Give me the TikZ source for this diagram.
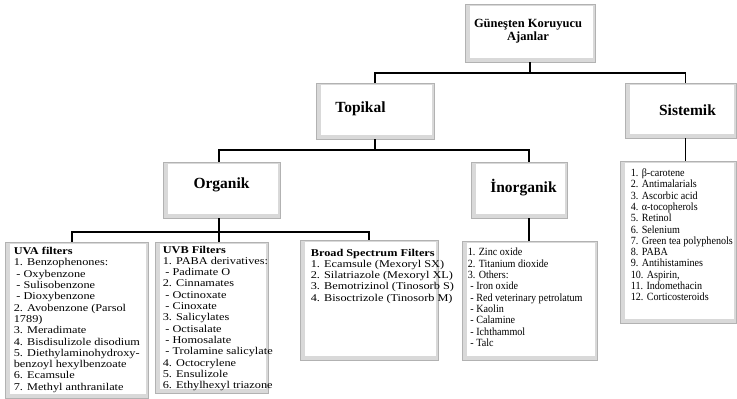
\documentclass[tikz,border=0pt]{standalone}
\usepackage{fontspec}
\setmainfont{Liberation Serif}
\newfontfamily\listfont[FakeStretch=1.18]{Liberation Serif}
\newfontfamily\listfonttwo[FakeStretch=0.92]{Liberation Serif}
\newcommand{\ind}{\hspace*{2.6pt}}
\begin{document}
\begin{tikzpicture}[x=1pt,y=-1pt,
  bevel/.style={draw=gray!60, line width=0.7pt, fill=gray!30, inner sep=0pt,
    path picture={\fill[white] ([shift={(4.5pt,-2pt)}]path picture bounding box.north west) rectangle ([shift={(-2pt,4.5pt)}]path picture bounding box.south east);}},
  conn/.style={draw=black, line width=1.8pt},
  head/.style={font=\bfseries\fontsize{15.5}{18}\selectfont, anchor=base, inner sep=0pt},
  lst/.style={font=\listfont\fontsize{10.4}{11.3}\selectfont, anchor=north west, align=left, inner sep=0pt},
  lsttwo/.style={font=\listfonttwo\fontsize{11}{11.3}\selectfont, anchor=north west, align=left, inner sep=0pt}]
\useasboundingbox (0,0) rectangle (737,399);

% boxes
\node[bevel, minimum width=130pt, minimum height=58pt] (top) at (530,33) {};
\node[bevel, minimum width=118pt, minimum height=56pt] (topikal) at (375,111) {};
\node[bevel, minimum width=111pt, minimum height=55pt] (sistemik) at (680.5,110.5) {};
\node[bevel, minimum width=117pt, minimum height=56pt] (organik) at (221.5,190) {};
\node[bevel, minimum width=96pt, minimum height=56pt] (inorganik) at (519,190) {};
\node[bevel, minimum width=143pt, minimum height=156.5pt] (uva) at (76.5,320.25) {};
\node[bevel, minimum width=113pt, minimum height=151pt] (uvb) at (211.5,317.5) {};
\node[bevel, minimum width=138pt, minimum height=120pt] (broad) at (369,300) {};
\node[bevel, minimum width=135pt, minimum height=119pt] (inlist) at (529.5,300.5) {};
\node[bevel, minimum width=116pt, minimum height=162pt] (silist) at (678,242) {};

% connectors
\coordinate (j1) at (530,73);
\coordinate (j2) at (375,150);
\coordinate (j3) at (219,232);
\draw[conn] (top.south) -- (j1);
\draw[conn] (topikal.north) |- (j1) -| ([xshift=5pt]sistemik.north);
\draw[conn] (topikal.south) -- (j2);
\draw[conn] ([xshift=-2.5pt]organik.north) |- (j2) -| ([xshift=10pt]inorganik.north);
\draw[conn] ([xshift=5pt]sistemik.south) -- ([xshift=5pt]sistemik.south |- silist.north);
\draw[conn] ([xshift=-2.5pt]organik.south) -- ([xshift=-2.5pt]organik.south |- uvb.north);
\draw[conn] ([xshift=-4.5pt]uva.north) |- (j3) -| (broad.north);
\draw[conn] ([xshift=10pt]inorganik.south) -- ([xshift=10pt]inorganik.south |- inlist.north);

% header texts
\node[font=\bfseries\fontsize{12.5}{12.5}\selectfont, align=center, inner sep=0pt] (topT) at (528,31) {Güneşten Koruyucu\\Ajanlar};
\node[head] (topikalT) at (360.5,112) {Topikal};
\node[head] (sistemikT) at (687.5,115) {Sistemik};
\node[head] (organikT) at (221.5,188) {Organik};
\node[head] (inorganikT) at (523.5,192) {İnorganik};

% list texts
\node[lst] (uvaT) at ([shift={(9pt,-5.5pt)}]uva.north west) {\textbf{UVA filters}\\1. Benzophenones:\\\ind- Oxybenzone\\\ind- Sulisobenzone\\\ind- Dioxybenzone\\2. Avobenzone (Parsol\\1789)\\3. Meradimate\\4. Bisdisulizole disodium\\5. Diethylaminohydroxy-\\benzoyl hexylbenzoate\\6. Ecamsule\\7. Methyl anthranilate};
\node[lst] (uvbT) at ([shift={(8pt,-4pt)}]uvb.north west) {\textbf{UVB Filters}\\1. PABA derivatives:\\\ind- Padimate O\\2. Cinnamates\\\ind- Octinoxate\\\ind- Cinoxate\\3. Salicylates\\\ind- Octisalate\\\ind- Homosalate\\\ind- Trolamine salicylate\\4. Octocrylene\\5. Ensulizole\\6. Ethylhexyl triazone};
\node[lst] (broadT) at ([shift={(11pt,-9pt)}]broad.north west) {\textbf{Broad Spectrum Filters}\\1. Ecamsule (Mexoryl SX)\\2. Silatriazole (Mexoryl XL)\\3. Bemotrizinol (Tinosorb S)\\4. Bisoctrizole (Tinosorb M)};
\node[lsttwo] (inlistT) at ([shift={(6pt,-7.5pt)}]inlist.north west) {1. Zinc oxide\\2. Titanium dioxide\\3. Others:\\\ind- Iron oxide\\\ind- Red veterinary petrolatum\\\ind- Kaolin\\\ind- Calamine\\\ind- Ichthammol\\\ind- Talc};
\node[lsttwo] (silistT) at ([shift={(11pt,-8pt)}]silist.north west) {1. β-carotene\\2. Antimalarials\\3. Ascorbic acid\\4. α-tocopherols\\5. Retinol\\6. Selenium\\7. Green tea polyphenols\\8. PABA\\9. Antihistamines\\10. Aspirin,\\11. Indomethacin\\12. Corticosteroids};
\end{tikzpicture}
\end{document}
